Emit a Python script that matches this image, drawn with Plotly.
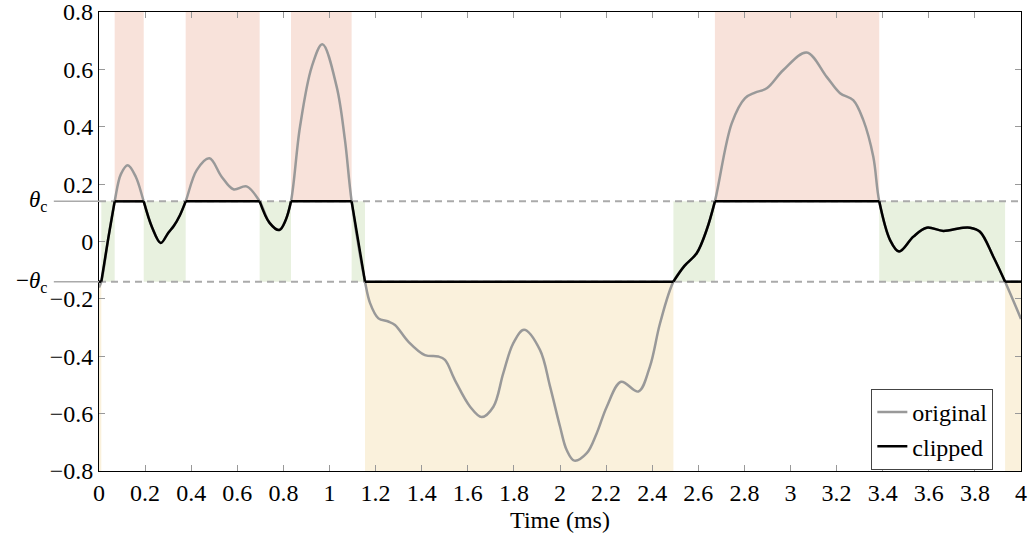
import numpy as np
import plotly.graph_objects as go

# Clipping threshold
theta_c = 0.14

# Original signal samples: time (ms) and amplitude
time_ms = [0.000, 0.010, 0.040, 0.068, 0.095, 0.125, 0.160, 0.194, 0.230, 0.268,
           0.300, 0.325, 0.350, 0.376, 0.424, 0.479, 0.532, 0.583, 0.640, 0.697,
           0.740, 0.782, 0.810, 0.833, 0.872, 0.923, 0.969, 1.031, 1.067, 1.096,
           1.154, 1.176, 1.212, 1.255, 1.284, 1.342, 1.414, 1.472, 1.501, 1.544,
           1.610, 1.660, 1.711, 1.754, 1.797, 1.844, 1.913, 1.957, 2.000, 2.029,
           2.062, 2.116, 2.159, 2.203, 2.265, 2.340, 2.390, 2.434, 2.492, 2.540,
           2.593, 2.636, 2.672, 2.745, 2.803, 2.846, 2.897, 2.969, 3.070, 3.157,
           3.215, 3.272, 3.316, 3.359, 3.385, 3.432, 3.471, 3.533, 3.591, 3.663,
           3.740, 3.779, 3.822, 3.880, 3.931, 4.000]
original = [-0.160, -0.140, 0.010, 0.140, 0.235, 0.266, 0.225, 0.140, 0.050, -0.005,
            0.030, 0.055, 0.090, 0.140, 0.249, 0.290, 0.226, 0.182, 0.192, 0.140,
            0.065, 0.040, 0.075, 0.140, 0.400, 0.609, 0.688, 0.540, 0.354, 0.140,
            -0.140, -0.215, -0.268, -0.279, -0.291, -0.349, -0.396, -0.401, -0.413, -0.483,
            -0.576, -0.612, -0.576, -0.459, -0.355, -0.308, -0.378, -0.506, -0.645, -0.727,
            -0.764, -0.738, -0.669, -0.576, -0.489, -0.523, -0.436, -0.285, -0.140, -0.085,
            -0.041, 0.040, 0.140, 0.412, 0.500, 0.519, 0.534, 0.598, 0.659, 0.574,
            0.517, 0.493, 0.423, 0.296, 0.140, 0.005, -0.035, 0.017, 0.048, 0.037,
            0.047, 0.048, 0.034, -0.053, -0.140, -0.270]

x_ticks = [round(0.2 * i, 1) for i in range(21)]
x_tick_text = ["0", "0.2", "0.4", "0.6", "0.8", "1", "1.2", "1.4", "1.6", "1.8", "2",
               "2.2", "2.4", "2.6", "2.8", "3", "3.2", "3.4", "3.6", "3.8", "4"]
y_ticks = [0.8, 0.6, 0.4, 0.2, 0.0, -0.2, -0.4, -0.6, -0.8]
y_tick_text = ["0.8", "0.6", "0.4", "0.2", "0", "−0.2", "−0.4", "−0.6", "−0.8"]

RED_BAND = "#f8e2da"
GREEN_BAND = "#e8f1df"
YELLOW_BAND = "#faf1dc"
GRAY = "#999999"

t = np.array(time_ms)
y = np.array(original)
clipped = np.clip(y, -theta_c, theta_c)
inside = np.abs(y) <= theta_c + 1e-9

# Split the samples into runs of in-range / clipped points
runs = []
start = 0
for i in range(1, len(t) + 1):
    if i == len(t) or inside[i] != inside[start]:
        runs.append((start, i - 1, bool(inside[start])))
        start = i

# Clipped trace: smooth pieces inside the band, straight flats when saturated
cx, cy = [], []
bands = []
for a, b, ok in runs:
    if ok:
        cx += list(t[a:b + 1]) + [None]
        cy += list(clipped[a:b + 1]) + [None]
        bands.append((t[a], t[b], -theta_c, theta_c, GREEN_BAND))
    else:
        x0 = t[a - 1] if a > 0 else t[a]
        x1 = t[b + 1] if b + 1 < len(t) else t[b]
        level = clipped[a]
        cx += [x0, x1, None]
        cy += [level, level, None]
        if level > 0:
            bands.append((x0, x1, theta_c, 0.8, RED_BAND))
        else:
            bands.append((x0, x1, -0.8, -theta_c, YELLOW_BAND))

fig = go.Figure()
fig.add_trace(go.Scatter(
    x=time_ms, y=original, mode="lines", name="original",
    line=dict(color=GRAY, width=2.5, shape="spline", smoothing=1.0),
))
fig.add_trace(go.Scatter(
    x=cx, y=cy, mode="lines", name="clipped", connectgaps=False,
    line=dict(color="black", width=2.5, shape="spline", smoothing=1.0),
))

shapes = []
for x0, x1, y0, y1, col in bands:
    shapes.append(dict(type="rect", xref="x", yref="y", x0=x0, x1=x1, y0=y0, y1=y1,
                       fillcolor=col, line=dict(width=0), layer="below"))
for lvl in (theta_c, -theta_c):
    shapes.append(dict(type="line", xref="x", yref="y", x0=0, x1=4, y0=lvl, y1=lvl,
                       line=dict(color="#aaaaaa", width=2, dash="7px,5px"), layer="below"))
    shapes.append(dict(type="line", xref="paper", yref="y", x0=-0.049, x1=0, y0=lvl, y1=lvl,
                       line=dict(color="#aaaaaa", width=1.5)))

FONT = "Times New Roman"
text_font = dict(family=FONT, size=24, color="black")
theta_font = dict(family=FONT, size=23, color="black")

annotations = [
    dict(xref="paper", yref="y", x=-0.054, y=theta_c, xanchor="right", yanchor="middle",
         text="<i>θ</i><sub>c</sub>", showarrow=False, font=theta_font),
    dict(xref="paper", yref="y", x=-0.054, y=-theta_c, xanchor="right", yanchor="middle",
         text="−<i>θ</i><sub>c</sub>", showarrow=False, font=theta_font),
    # the topmost y tick label sits flush with the page edge, so it is placed as text
    dict(xref="paper", yref="y", x=-0.0055, y=y_ticks[0], xanchor="right", yanchor="middle",
         text=y_tick_text[0], showarrow=False, font=text_font, borderpad=0),
]

axis_common = dict(
    showline=True, linecolor="black", linewidth=1, mirror="allticks",
    ticks="inside", ticklen=6, tickwidth=1, tickcolor="#999999",
    showgrid=False, zeroline=False, automargin=False, tickfont=text_font,
)

fig.update_layout(
    width=1031, height=540, autosize=False,
    margin=dict(l=99, r=10, t=12, b=69),
    plot_bgcolor="white", paper_bgcolor="white",
    font=text_font,
    xaxis=dict(range=[0, 4], tickvals=x_ticks, ticktext=x_tick_text,
               title=dict(text="Time (ms)", font=text_font, standoff=6),
               **axis_common),
    yaxis=dict(range=[-0.8001, 0.8001], tickvals=y_ticks[1:], ticktext=y_tick_text[1:],
               **axis_common),
    shapes=shapes,
    annotations=annotations,
    showlegend=True,
    legend=dict(x=0.97, y=0.179, xanchor="right", yanchor="top",
                bgcolor="white", bordercolor="#444444", borderwidth=1,
                font=text_font, tracegroupgap=0, itemwidth=30),
)

fig.write_html("out.html")
